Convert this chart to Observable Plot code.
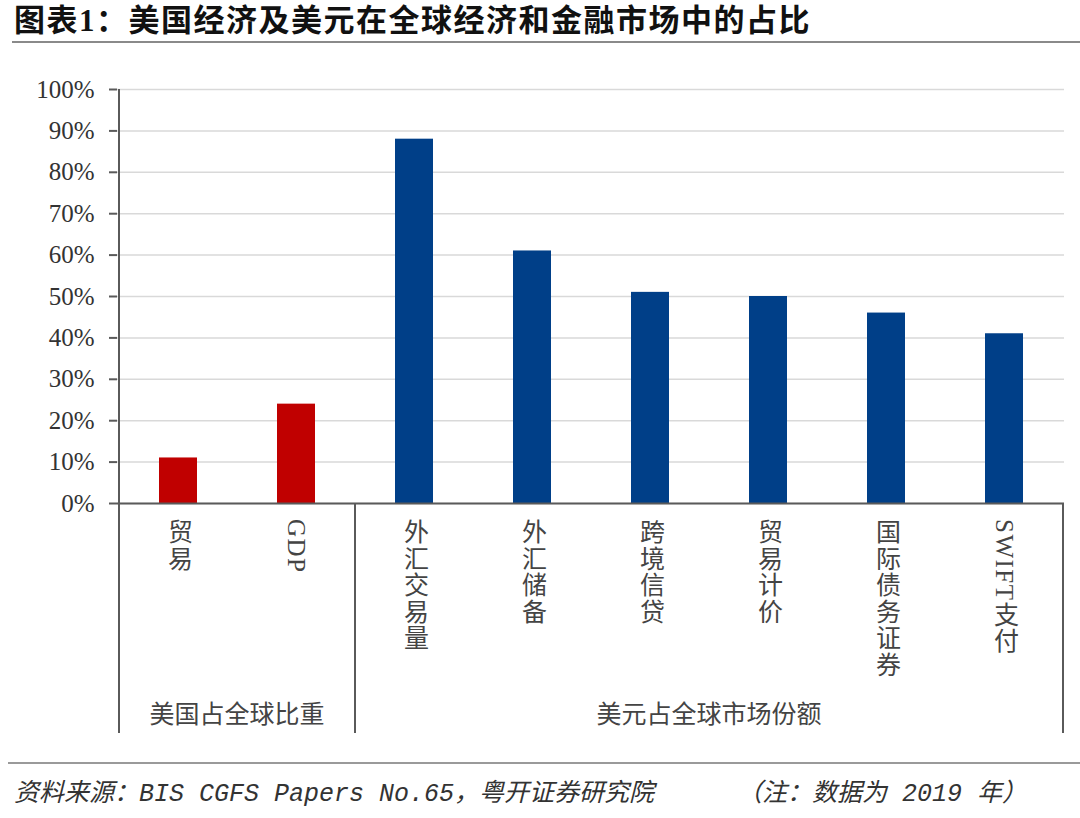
<!DOCTYPE html>
<html><head><meta charset="utf-8">
<script src="https://cdn.jsdelivr.net/npm/d3@7"></script>
<script src="https://cdn.jsdelivr.net/npm/@observablehq/plot@0.6"></script>
<style>
html,body{margin:0;padding:0;background:#fff;width:1080px;height:818px;overflow:hidden;}
#title{position:absolute;left:14px;top:3px;font-weight:bold;font-size:31px;font-family:"Liberation Serif","Noto Sans CJK SC",serif;letter-spacing:1.5px;color:#111;white-space:nowrap;line-height:36px}
#tline{position:absolute;left:12px;right:0;top:41px;height:0;border-top:2px solid #8a8a8a}
#chart{position:absolute;left:0;top:45px}
#fline{position:absolute;left:8px;right:0;top:762px;height:0;border-top:2px solid #9a9a9a}
.foot{position:absolute;top:780px;font-style:italic;font-size:25px;font-family:"Liberation Mono","Noto Sans CJK SC",monospace;color:#333;white-space:nowrap;line-height:30px}
svg text{font-family:"Liberation Serif","Noto Sans CJK SC",serif;}
</style></head><body>
<div id="title">图表1：美国经济及美元在全球经济和金融市场中的占比</div>
<div id="tline"></div>
<div id="chart"></div>
<div id="fline"></div>
<div class="foot" style="left:14px">资料来源：BIS CGFS Papers No.65，粤开证券研究院</div>
<div class="foot" style="left:737px">（注：数据为 2019 年）</div>
<script>
const categories = ["贸易", "GDP", "外汇交易量", "外汇储备", "跨境信贷", "贸易计价", "国际债务证券", "SWIFT支付"];
const values = [11, 24, 88, 61, 51, 50, 46, 41];
const groupOf = ["美国占全球比重", "美国占全球比重", "美元占全球市场份额", "美元占全球市场份额", "美元占全球市场份额", "美元占全球市场份额", "美元占全球市场份额", "美元占全球市场份额"];
const groupNames = ["美国占全球比重", "美元占全球市场份额"];
const yTicks = [0, 10, 20, 30, 40, 50, 60, 70, 80, 90, 100];

const data = categories.map((c, i) => ({category: c, value: values[i], group: groupOf[i]}));

const FONT = "Liberation Serif, Noto Sans CJK SC, serif";
const AXIS_COLOR = "#5a5a5a";

function groupFrame(index, scales, vals, dims) {
  const x = scales.x;
  const bw = x.bandwidth();
  const step = x(categories[1]) - x(categories[0]);
  const gap = (step - bw) / 2;
  const y0 = dims.height - dims.marginBottom;
  const yTop = dims.marginTop;
  const yBox = y0 + 230;
  const g = d3.create("svg:g");
  const bounds = [];
  groupNames.forEach((name) => {
    const members = categories.filter((c, i) => groupOf[i] === name);
    const left = x(members[0]) - gap;
    const right = x(members[members.length - 1]) + bw + gap;
    bounds.push({name, left, right});
  });
  const edges = [bounds[0].left, ...bounds.map(b => b.right)];
  edges.forEach((ex, k) => {
    g.append("line")
      .attr("x1", ex).attr("x2", ex)
      .attr("y1", k === 0 ? yTop : y0).attr("y2", yBox)
      .attr("stroke", AXIS_COLOR).attr("stroke-width", 2);
  });
  categories.forEach((c) => {
    g.append("text")
      .attr("x", x(c) + bw / 2)
      .attr("y", y0 + 16)
      .attr("text-anchor", "start")
      .attr("font-family", FONT)
      .attr("font-size", 25)
      .attr("fill", "#444")
      .style("writing-mode", "vertical-rl")
      .style("text-orientation", "mixed")
      .style("letter-spacing", "1.5px")
      .text(c);
  });
  bounds.forEach(b => {
    g.append("text")
      .attr("x", (b.left + b.right) / 2)
      .attr("y", y0 + 214)
      .attr("text-anchor", "middle")
      .attr("dominant-baseline", "middle")
      .attr("font-family", FONT)
      .attr("font-size", 25)
      .attr("fill", "#444")
      .text(b.name);
  });
  return g.node();
}

const chart = Plot.plot({
  width: 1080,
  height: 700,
  marginTop: 44,
  marginBottom: 242,
  marginLeft: 117,
  marginRight: 16,
  style: {fontFamily: FONT, background: "#fff"},
  x: {domain: categories, paddingInner: 0.68, paddingOuter: 0.34, axis: null, label: null},
  y: {domain: [0, 100], axis: null, label: null},
  color: {domain: groupNames, range: ["#c00000", "#003f88"]},
  marks: [
    Plot.gridY(yTicks, {stroke: "#d9d9d9", strokeOpacity: 1, strokeWidth: 1.5}),
    Plot.barY(data, {x: "category", y: "value", fill: "group"}),
    Plot.axisY(yTicks, {
      tickFormat: d => d + "%",
      tickSize: 8,
      tickPadding: 15,
      stroke: AXIS_COLOR,
      strokeWidth: 2,
      fontSize: 25,
      fontFamily: FONT,
      fontVariant: "normal",
      fill: "#333",
      label: null
    }),
    Plot.ruleY([0], {stroke: AXIS_COLOR, strokeWidth: 2}),
    groupFrame
  ]
});
document.getElementById("chart").appendChild(chart);
</script>
</body></html>
